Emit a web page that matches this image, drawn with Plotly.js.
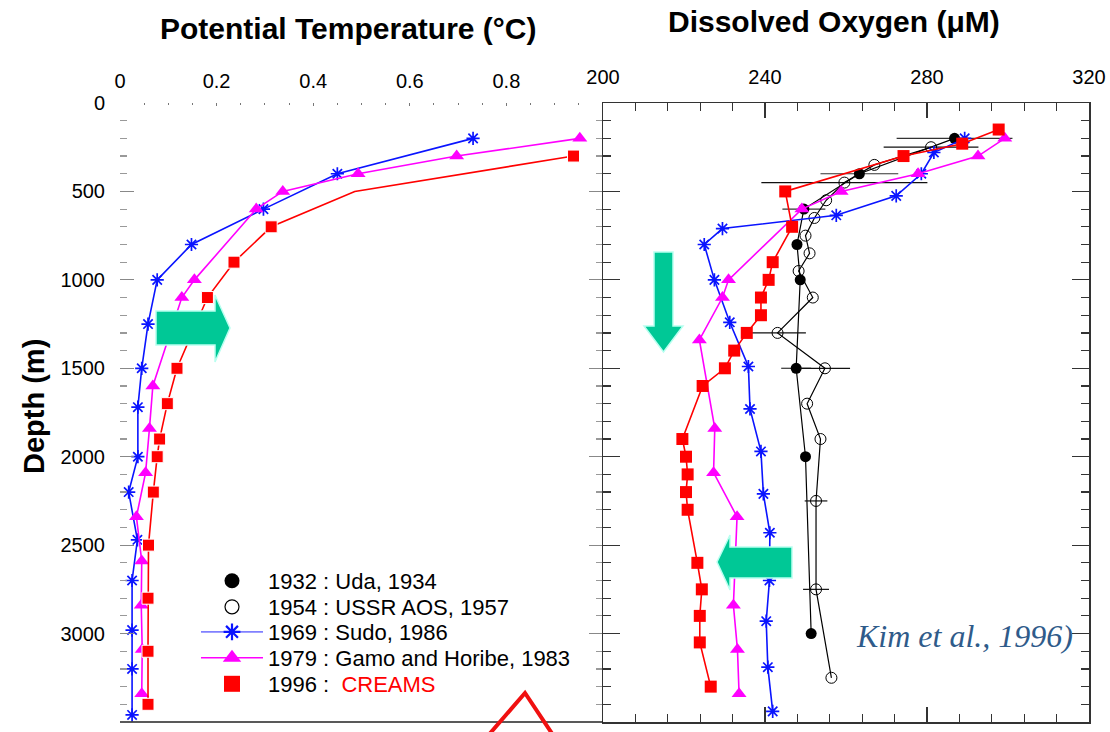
<!DOCTYPE html>
<html>
<head>
<meta charset="utf-8">
<script src="https://cdn.plot.ly/plotly-3.0.1.min.js"></script>
<style>html,body{margin:0;padding:0;background:#fff;}#chart{width:1110px;height:732px;}</style>
</head>
<body>
<div id="chart"></div>
<script>
// ---------- Potential temperature (left panel) ----------
const tDepth1969 = [200,400,600,800,1000,1250,1500,1720,2000,2200,2470,2700,2980,3200,3460];
const temp1969   = [0.731,0.450,0.297,0.148,0.077,0.058,0.045,0.037,0.037,0.018,0.036,0.025,0.025,0.025,0.025];

const tDepth1979 = [200,300,400,500,600,1000,1100,1600,1840,2090,2340,2590,2840,3090,3340];
const temp1979   = [0.952,0.697,0.493,0.337,0.282,0.154,0.128,0.068,0.061,0.053,0.034,0.045,0.044,0.046,0.045];

const tDepth1996 = [300,500,700,900,1100,1500,1700,1900,2000,2200,2500,2800,3100,3400];
const temp1996   = [0.939,0.486,0.313,0.236,0.181,0.118,0.098,0.082,0.077,0.069,0.059,0.058,0.058,0.058];

// ---------- Dissolved oxygen (right panel) ----------
const oDepth1932 = [200,400,600,800,1000,1500,2000,3000];
const oxy1932    = [286.8,263.3,249.6,247.9,248.7,247.7,250.0,251.4];
const err1932    = [14.3,9.6,5.3,0,0,3.7,0,0];

const oDepth1954 = [250,350,450,550,650,750,850,950,1100,1300,1500,1700,1900,2250,2750,3250];
const oxy1954    = [281.0,267.0,259.6,255.1,252.2,250.0,251.0,248.3,251.8,243.1,254.8,250.4,253.7,252.6,252.6,256.4];
const err1954    = [11.7,0,20.5,0,0,0,0,0,0,7.0,6.2,0,0,2.8,3.2,0];

const oDepth1969 = [200,280,400,525,635,710,800,1000,1240,1490,1730,1970,2210,2430,2700,2930,3190,3440];
const oxy1969    = [289.3,281.7,278.6,272.4,257.6,229.5,225.0,227.5,231.3,235.9,236.3,239.0,239.6,241.2,241.1,240.3,240.7,241.9];

const oDepth1979 = [200,300,400,500,600,1000,1100,1340,1840,2090,2340,2590,2840,3090,3340];
const oxy1979    = [299.2,292.6,277.8,258.8,249.1,231.0,229.5,223.8,227.6,227.3,233.1,232.6,232.2,233.2,233.6];

const oDepth1996 = [150,230,300,500,700,900,1000,1100,1200,1300,1400,1500,1600,1900,2000,2100,2200,2300,2600,2750,2900,3050,3300];
const oxy1996    = [297.7,288.7,274.2,245.0,246.7,241.9,240.9,239.0,239.0,235.5,232.4,230.1,224.6,219.6,220.5,220.9,220.5,220.9,223.3,224.4,223.9,223.9,226.6];

const tempTicks = [0,0.2,0.4,0.6,0.8];
const legendNames = ['1932 : Uda, 1934','1954 : USSR AOS, 1957','1969 : Sudo, 1986','1979 : Gamo and Horibe, 1983',"1996 :  <span style='color:#ff0000'>CREAMS</span>"];

// ---------- styling ----------
const FONT = 'Liberation Sans, Arial, sans-serif';
const BLUE = '#0a14ff', MAG = '#ff00ff', RED = '#ff0000', GREEN = '#00c896';
const X = px => (px - 120) / 969;
const Y = py => (722 - py) / 619;

const blueStyle = {mode:'lines+markers', line:{color:BLUE,width:1.6}, marker:{symbol:'asterisk-open',size:11,color:BLUE,line:{color:BLUE,width:1.7}}};
const magStyle  = {mode:'lines+markers', line:{color:MAG,width:1.6}, marker:{symbol:'triangle-up',size:13,color:MAG}};
const redStyle  = {mode:'lines+markers', line:{color:RED,width:1.6}, marker:{symbol:'square',size:12,color:RED}};

const traces = [
  // left panel
  Object.assign({x:temp1969, y:tDepth1969, xaxis:'x', yaxis:'y', showlegend:false}, blueStyle),
  Object.assign({x:temp1979, y:tDepth1979, xaxis:'x', yaxis:'y', showlegend:false}, magStyle),
  Object.assign({x:temp1996, y:tDepth1996, xaxis:'x', yaxis:'y', showlegend:false}, redStyle,
    {marker:{symbol:'square', color:RED, opacity:1, size:tDepth1996.map(d => d === 500 ? 0 : 12)}}),
  // right panel
  {x:oxy1932, y:oDepth1932, xaxis:'x2', yaxis:'y2', showlegend:false, mode:'lines+markers',
   line:{color:'#000',width:1.2}, marker:{symbol:'circle',size:11,color:'#000'},
   error_x:{type:'data',array:err1932,visible:true,color:'#333',thickness:1.2,width:0}},
  {x:oxy1954, y:oDepth1954, xaxis:'x2', yaxis:'y2', showlegend:false, mode:'lines+markers',
   line:{color:'#000',width:1.2}, marker:{symbol:'circle-open',size:11,color:'#000',line:{width:1}},
   error_x:{type:'data',array:err1954,visible:true,color:'#111',thickness:1.2,width:0}},
  Object.assign({x:oxy1969, y:oDepth1969, xaxis:'x2', yaxis:'y2', showlegend:false}, blueStyle),
  Object.assign({x:oxy1979, y:oDepth1979, xaxis:'x2', yaxis:'y2', showlegend:false}, magStyle),
  Object.assign({x:oxy1996, y:oDepth1996, xaxis:'x2', yaxis:'y2', showlegend:false}, redStyle),
  // legend entries (one small legend per row)
  {x:[null], y:[null], xaxis:'x', yaxis:'y', name:legendNames[0], legend:'legend', mode:'markers', marker:{symbol:'circle',size:15,color:'#000'}},
  {x:[null], y:[null], xaxis:'x', yaxis:'y', name:legendNames[1], legend:'legend2', mode:'markers', marker:{symbol:'circle-open',size:14,color:'#000',line:{width:1.2}}},
  Object.assign({x:[null], y:[null], xaxis:'x', yaxis:'y', name:legendNames[2], legend:'legend3'}, blueStyle, {line:{color:'#8080ff',width:1.8}, marker:{symbol:'asterisk-open',size:14,color:BLUE,line:{color:BLUE,width:2.2}}}),
  Object.assign({x:[null], y:[null], xaxis:'x', yaxis:'y', name:legendNames[3], legend:'legend4'}, magStyle, {marker:{symbol:'triangle-up',size:16,color:MAG}}),
  {x:[null], y:[null], xaxis:'x', yaxis:'y', name:legendNames[4], legend:'legend5', mode:'markers', marker:{symbol:'square',size:16,color:RED}}
];

const legendRows = [581, 607, 632, 658, 684];
const legendBase = {xref:'paper', yref:'paper', x:X(196), xanchor:'left', yanchor:'middle',
  bgcolor:'rgba(0,0,0,0)', font:{family:FONT,size:22,color:'#000'}, itemwidth:62};

const arrowLine = {color:'#b8fff0', width:1.5};
const pathFrom = pts => 'M' + pts.map(p => X(p[0]).toFixed(5) + ',' + Y(p[1]).toFixed(5)).join('L') + 'Z';

const layout = {
  width:1110, height:732,
  margin:{l:120, r:21, t:103, b:10},
  paper_bgcolor:'#fff', plot_bgcolor:'rgba(0,0,0,0)',
  font:{family:FONT, size:20, color:'#000'},
  showlegend:true,
  legend:  Object.assign({}, legendBase, {y:Y(legendRows[0])}),
  legend2: Object.assign({}, legendBase, {y:Y(legendRows[1])}),
  legend3: Object.assign({}, legendBase, {y:Y(legendRows[2])}),
  legend4: Object.assign({}, legendBase, {y:Y(legendRows[3])}),
  legend5: Object.assign({}, legendBase, {y:Y(legendRows[4])}),
  xaxis:{domain:[0, X(603)], range:[0,1], side:'top', anchor:'y', tickmode:'array', tickvals:tempTicks,
         ticktext:tempTicks.map(v => String(v)),
         ticks:'inside', ticklen:3, tickcolor:'#777', tickwidth:1, showline:false, showgrid:false, zeroline:false,
         minor:{tickmode:'linear', tick0:0, dtick:0.05, ticks:'inside', ticklen:2, tickcolor:'#777'},
         tickfont:{size:20}, ticklabelstandoff:10},
  yaxis:{domain:[0,1], range:[3500,0], anchor:'x', dtick:500, ticks:'inside', ticklen:14, tickcolor:'#888', tickwidth:1.2,
         minor:{dtick:100, ticks:'inside', ticklen:7, tickcolor:'#999'},
         showline:false, mirror:'ticks', showgrid:false, zeroline:false, tickfont:{size:20}, ticklabelstandoff:14},
  xaxis2:{domain:[X(603),1], range:[200,320], side:'top', anchor:'y2', dtick:40, ticks:'inside', ticklen:15, tickcolor:'#333', tickwidth:1.2,
          minor:{dtick:8, ticks:'inside', ticklen:8, tickcolor:'#333'},
          showline:true, linecolor:'#333', linewidth:1.5, mirror:'ticks', showgrid:false, zeroline:false,
          tickfont:{size:20}, ticklabelstandoff:10},
  yaxis2:{domain:[0,1], range:[3500,0], anchor:'x2', dtick:500, ticks:'inside', ticklen:17, tickcolor:'#333', tickwidth:1.2,
          minor:{dtick:100, ticks:'inside', ticklen:8, tickcolor:'#333'},
          showline:true, linecolor:'#333', linewidth:1.5, mirror:'ticks', showgrid:false, zeroline:false, showticklabels:false},
  shapes:[
    {type:'line', xref:'x', yref:'paper', x0:0, x1:1, y0:0, y1:0, line:{color:'#222', width:1.5}},
    {type:'path', xref:'paper', yref:'paper', fillcolor:GREEN, line:arrowLine, layer:'above',
     path:pathFrom([[156,311],[215,311],[215,295],[230,328],[215,362],[215,345],[156,345]])},
    {type:'path', xref:'paper', yref:'paper', fillcolor:GREEN, line:arrowLine, layer:'above',
     path:pathFrom([[654,252],[673,252],[673,326],[683,326],[663.5,352],[644,326],[654,326]])},
    {type:'path', xref:'paper', yref:'paper', fillcolor:GREEN, line:arrowLine, layer:'above',
     path:pathFrom([[792,547],[730,547],[730,535],[717,562],[730,590],[730,578],[792,578]])},
    {type:'path', xref:'paper', yref:'paper', line:{color:'#f01010', width:4}, layer:'above',
     path:'M' + X(486) + ',' + Y(738) + 'L' + X(525) + ',' + Y(693) + 'L' + X(555) + ',' + Y(738)}
  ],
  annotations:[
    {xref:'paper', yref:'paper', x:X(348), y:Y(28), text:'<b>Potential Temperature (°C)</b>', showarrow:false,
     font:{family:FONT, size:30, color:'#000'}, xanchor:'center', yanchor:'middle'},
    {xref:'paper', yref:'paper', x:X(834), y:Y(22), text:'<b>Dissolved Oxygen (μM)</b>', showarrow:false,
     font:{family:FONT, size:30, color:'#000'}, xanchor:'center', yanchor:'middle'},
    {xref:'paper', yref:'paper', x:X(34), y:Y(407), text:'<b>Depth (m)</b>', textangle:-90, showarrow:false,
     font:{family:FONT, size:29, color:'#000'}, xanchor:'center', yanchor:'middle'},
    {xref:'paper', yref:'paper', x:X(964), y:Y(636), text:'<i>Kim et al., 1996)</i>', showarrow:false,
     font:{family:'Liberation Serif, Times New Roman, serif', size:32, color:'#2f5b8a'}, xanchor:'center', yanchor:'middle'}
  ]
};

Plotly.newPlot('chart', traces, layout, {displayModeBar:false, staticPlot:true});
</script>
</body>
</html>
